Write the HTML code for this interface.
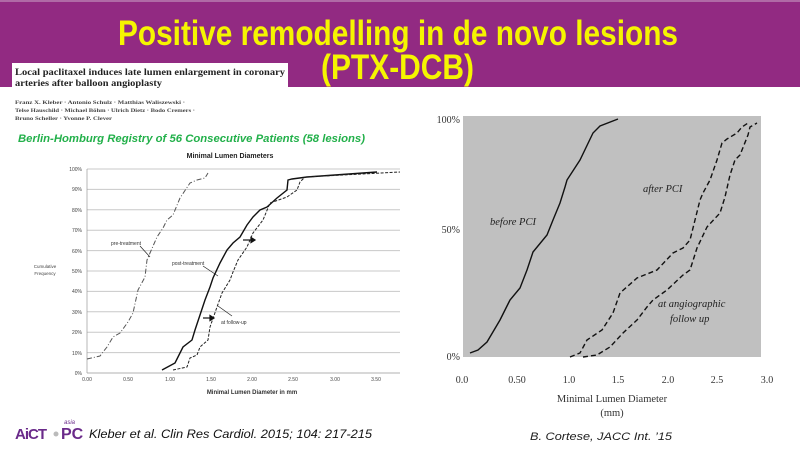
<!DOCTYPE html>
<html><head><meta charset="utf-8"><style>
body{margin:0;width:800px;height:450px;overflow:hidden;background:#fff;font-family:"Liberation Sans",sans-serif}
</style></head><body>
<svg width="800" height="450" viewBox="0 0 800 450" xmlns="http://www.w3.org/2000/svg" style="position:absolute;left:0;top:0">
<rect x="0" y="0" width="800" height="87" fill="#922a82"/>
<rect x="0" y="0" width="800" height="2" fill="#b06aa6"/>
<text x="118" y="45" font-size="35" font-weight="bold" fill="#f5f500" textLength="560" lengthAdjust="spacingAndGlyphs">Positive remodelling in de novo lesions</text>
<text x="321" y="79" font-size="35" font-weight="bold" fill="#f5f500" textLength="153" lengthAdjust="spacingAndGlyphs">(PTX-DCB)</text>
<rect x="12" y="63" width="276" height="24" fill="#fff"/>
<g font-family="Liberation Serif,serif" font-weight="bold" fill="#222">
<text x="15" y="75" font-size="9.5" textLength="270" lengthAdjust="spacingAndGlyphs">Local paclitaxel induces late lumen enlargement in coronary</text>
<text x="15" y="86" font-size="9.5" textLength="147" lengthAdjust="spacingAndGlyphs">arteries after balloon angioplasty</text>
<text x="15" y="104" font-size="5.5" fill="#444" textLength="170" lengthAdjust="spacingAndGlyphs">Franz X. Kleber · Antonio Schulz · Matthias Waliszewski ·</text>
<text x="15" y="112" font-size="5.5" fill="#444" textLength="180" lengthAdjust="spacingAndGlyphs">Telse Hauschild · Michael Böhm · Ulrich Dietz · Bodo Cremers ·</text>
<text x="15" y="120" font-size="5.5" fill="#444" textLength="97" lengthAdjust="spacingAndGlyphs">Bruno Scheller · Yvonne P. Clever</text>
</g>
<text x="18" y="142" font-size="11" font-weight="bold" font-style="italic" fill="#22b04a" textLength="347" lengthAdjust="spacingAndGlyphs">Berlin-Homburg Registry of 56 Consecutive Patients (58 lesions)</text>
<text x="230" y="158" font-size="7" font-weight="bold" fill="#222" text-anchor="middle">Minimal Lumen Diameters</text>
<g stroke="#c8c8c8" stroke-width="1">
<line x1="87" y1="169" x2="400" y2="169"/><line x1="87" y1="189.4" x2="400" y2="189.4"/><line x1="87" y1="209.8" x2="400" y2="209.8"/><line x1="87" y1="230.2" x2="400" y2="230.2"/><line x1="87" y1="250.6" x2="400" y2="250.6"/><line x1="87" y1="271" x2="400" y2="271"/><line x1="87" y1="291.4" x2="400" y2="291.4"/><line x1="87" y1="311.8" x2="400" y2="311.8"/><line x1="87" y1="332.2" x2="400" y2="332.2"/><line x1="87" y1="352.6" x2="400" y2="352.6"/>
</g>
<line x1="87" y1="169" x2="87" y2="373" stroke="#999" stroke-width="0.7"/>
<line x1="87" y1="373" x2="400" y2="373" stroke="#999" stroke-width="0.7"/>
<g font-size="5" fill="#444" text-anchor="end">
<text x="82" y="171">100%</text><text x="82" y="191">90%</text><text x="82" y="212">80%</text><text x="82" y="232">70%</text><text x="82" y="253">60%</text><text x="82" y="273">50%</text><text x="82" y="293">40%</text><text x="82" y="314">30%</text><text x="82" y="334">20%</text><text x="82" y="355">10%</text><text x="82" y="375">0%</text>
</g>
<g font-size="5" fill="#444" text-anchor="middle">
<text x="87" y="381">0.00</text><text x="128" y="381">0.50</text><text x="170" y="381">1.00</text><text x="211" y="381">1.50</text><text x="252" y="381">2.00</text><text x="293" y="381">2.50</text><text x="335" y="381">3.00</text><text x="376" y="381">3.50</text>
<text x="45" y="268" font-size="4.5">Cumulative</text><text x="45" y="275" font-size="4.5">Frequency</text>
</g>
<text x="252" y="394" font-size="6" font-weight="bold" fill="#333" text-anchor="middle">Minimal Lumen Diameter in mm</text>
<polyline fill="none" stroke="#555" stroke-width="1" stroke-dasharray="5,2,1,2" points="87,359 100,356 107,347 113,337 120,333 128,322 133,313 138,290 145,277 147,260 150,253 157,237 163,228 167,220 173,215 180,198 190,183 197,180 205,178 208,173"/>
<polyline fill="none" stroke="#111" stroke-width="1.4" points="162,370 175,363 183,347 192,340 195,330 200,315 205,300 210,287 213,278 220,263 227,250 233,243 240,237 247,225 253,217 260,210 267,207 277,198 287,190 288,180 292,179 307,177 377,172"/>
<polyline fill="none" stroke="#222" stroke-width="1" stroke-dasharray="3,1.5" points="173,370 187,367 190,358 197,355 200,347 208,340 210,327 217,307 222,293 230,280 233,272 238,260 247,247 253,233 263,220 270,203 287,197 297,190 300,182 305,177 400,172"/>
<g font-size="5" fill="#333">
<text x="111" y="245">pre-treatment</text>
<text x="172" y="265">post-treatment</text>
<text x="221" y="324">at follow-up</text>
</g>
<g stroke="#222" stroke-width="0.7">
<line x1="140" y1="246" x2="150" y2="257"/>
<line x1="203" y1="266" x2="218" y2="276"/>
<line x1="218" y1="306" x2="232" y2="316"/>
</g>
<g stroke="#111" stroke-width="1.2" fill="#111">
<line x1="243" y1="240" x2="251" y2="240"/><polygon points="251,237.5 255,240 251,242.5"/>
<line x1="203" y1="318" x2="210" y2="318"/><polygon points="210,315.5 214,318 210,320.5"/>
</g>
<rect x="463" y="116" width="298" height="241" fill="#c0c0c0"/>
<g font-family="Liberation Serif,serif" font-size="10" fill="#333">
<text x="460" y="123" text-anchor="end">100%</text><text x="460" y="233" text-anchor="end">50%</text><text x="460" y="360" text-anchor="end">0%</text>
<text x="462" y="383" text-anchor="middle">0.0</text><text x="517" y="383" text-anchor="middle">0.50</text><text x="569" y="383" text-anchor="middle">1.0</text><text x="618" y="383" text-anchor="middle">1.5</text><text x="668" y="383" text-anchor="middle">2.0</text><text x="717" y="383" text-anchor="middle">2.5</text><text x="767" y="383" text-anchor="middle">3.0</text>
<text x="612" y="402" text-anchor="middle" font-size="10.5">Minimal Lumen Diameter</text>
<text x="612" y="416" text-anchor="middle" font-size="10.5">(mm)</text>
</g>
<g font-family="Liberation Serif,serif" font-size="10.5" font-style="italic" fill="#222">
<text x="490" y="225">before PCI</text>
<text x="643" y="192">after PCI</text>
<text x="658" y="307">at angiographic</text>
<text x="670" y="322">follow up</text>
</g>
<polyline fill="none" stroke="#111" stroke-width="1.4" points="470,353 478,350 487,342 500,320 510,300 520,288 527,270 533,252 547,235 553,220 560,203 565,187 567,180 580,160 593,133 600,126 618,119"/>
<polyline fill="none" stroke="#111" stroke-width="1.4" stroke-dasharray="5,3" points="570,357 580,353 587,340 602,330 613,313 620,293 637,278 657,270 673,253 683,248 690,240 695,220 700,200 703,193 710,180 717,160 722,143 727,139 737,133 742,127 748,123"/>
<polyline fill="none" stroke="#111" stroke-width="1.4" stroke-dasharray="5,3" points="583,357 597,355 610,347 623,333 637,320 647,307 653,300 667,290 683,275 690,270 697,248 707,227 720,213 725,197 730,175 735,160 740,155 748,135 750,127 757,123"/>
<text x="530" y="440" font-size="11" font-style="italic" fill="#222" textLength="142" lengthAdjust="spacingAndGlyphs">B. Cortese, JACC Int. ’15</text>
<text x="15" y="439" font-size="15" font-weight="bold" fill="#6a2a8a" letter-spacing="-1">AiCT</text>
<circle cx="56" cy="434" r="2.5" fill="#bbb"/>
<text x="61" y="439" font-size="16" font-weight="bold" fill="#6a2a8a">PC</text>
<text x="64" y="424" font-size="6" font-style="italic" fill="#6a2a8a">asia</text>
<text x="89" y="438" font-size="11.5" font-style="italic" fill="#111" textLength="283" lengthAdjust="spacingAndGlyphs">Kleber et al. Clin Res Cardiol. 2015; 104: 217-215</text>
</svg>
</body></html>
